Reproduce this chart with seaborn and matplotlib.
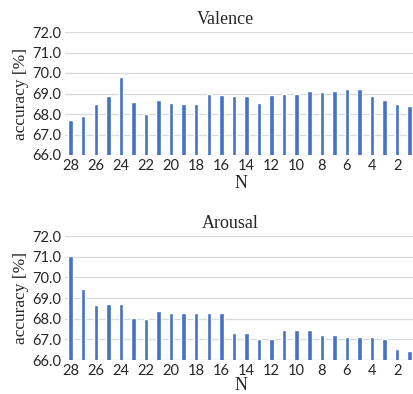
"""Accuracy vs. number of features N for valence and arousal."""

import matplotlib

matplotlib.use("Agg")
import matplotlib.pyplot as plt
import pandas as pd
import seaborn as sns

n_values = list(range(28, 0, -1))
valence_acc = [67.7, 67.9, 68.5, 68.9, 69.8, 68.6, 68.0, 68.7, 68.55, 68.5,
               68.5, 69.0, 68.95, 68.9, 68.9, 68.55, 68.95, 69.0, 69.0, 69.1,
               69.05, 69.1, 69.2, 69.2, 68.9, 68.7, 68.5, 68.4]
arousal_acc = [71.05, 69.45, 68.65, 68.7, 68.7, 68.05, 67.97, 68.35, 68.27, 68.27,
               68.27, 68.27, 68.27, 67.33, 67.33, 67.02, 67.0, 67.47, 67.47, 67.47,
               67.2, 67.2, 67.1, 67.13, 67.13, 67.0, 66.55, 66.45]
y_ticks = [66.0, 67.0, 68.0, 69.0, 70.0, 71.0, 72.0]

BAR_COLOR = "#4472C4"
SERIF = "Liberation Serif"
SANS = "Lato"

sns.set_style("white")
plt.rcParams["font.family"] = [SANS, "DejaVu Sans"]

fig = plt.figure(figsize=(4.14, 3.94), dpi=100)
ax_val = fig.add_axes([65 / 414, (394 - 155) / 394, 351 / 414, 123 / 394])
ax_aro = fig.add_axes([65 / 414, (394 - 360) / 394, 351 / 414, 124 / 394])

order = [str(n) for n in n_values]
panels = [(ax_val, valence_acc, "Valence", 0.456, 1),
          (ax_aro, arousal_acc, "Arousal", 0.47, -1)]
for ax, values, title, title_x, n_pad in panels:
    df = pd.DataFrame({"N": order, "acc": values})
    sns.barplot(data=df, x="N", y="acc", order=order, color=BAR_COLOR,
                width=0.36, saturation=1, ax=ax, zorder=3)
    ax.set_ylim(66.0, 72.0)
    ax.set_xlim(-0.45, 27.5)
    ax.set_yticks(y_ticks)
    ax.set_yticklabels([f"{t:.1f}" for t in y_ticks], fontsize=10.5)
    ax.set_xticks(range(len(order)))
    ax.set_xticklabels([lab if int(lab) % 2 == 0 else "" for lab in order],
                       fontsize=10.5)
    ax.tick_params(axis="both", length=0, pad=3)
    ax.grid(axis="y", color="#D9D9D9", linewidth=0.9, zorder=0)
    for side in ["top", "right", "left", "bottom"]:
        ax.spines[side].set_visible(False)
    ax.axhline(66.0, color="#D9D9D9", linewidth=0.9, zorder=1)
    ax.set_title(title, family=SERIF, fontsize=13, pad=6, x=title_x)
    ax.set_ylabel("accuracy [%]", family=SERIF, fontsize=12.5, labelpad=2)
    ax.set_xlabel("N", family=SERIF, fontsize=13, labelpad=n_pad)

fig.savefig("out.png", dpi=100)
plt.close(fig)
